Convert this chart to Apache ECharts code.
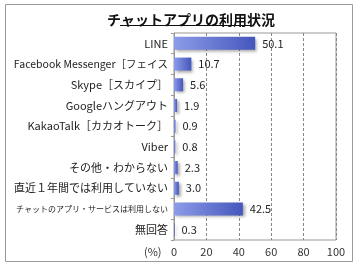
<!DOCTYPE html>
<html>
<head>
<meta charset="utf-8">
<script src="https://cdn.jsdelivr.net/npm/echarts@6/dist/echarts.min.js"></script>
<style>
  html, body { margin: 0; padding: 0; background: #fff; }
  #chart { width: 360px; height: 270px; }
</style>
</head>
<body>
<div id="chart"></div>
<script>
// category labels, top to bottom as in the picture
const categories = [
  "LINE",
  "Facebook Messenger［フェイス",
  "Skype［スカイプ］",
  "Googleハングアウト",
  "KakaoTalk［カカオトーク］",
  "Viber",
  "その他・わからない",
  "直近１年間では利用していない",
  "チャットのアプリ・サービスは利用しない",
  "無回答"
];
const values = [50.1, 10.7, 5.6, 1.9, 0.9, 0.8, 2.3, 3.0, 42.5, 0.3];
const xTicks = [0, 20, 40, 60, 80, 100];

const font = '"Noto Sans CJK JP", "Noto Sans", sans-serif';

// shrink long labels so they fit between the frame and the axis
const ctx = document.createElement("canvas").getContext("2d");
const fitSize = (text, maxW) => {
  let size = 11;
  while (size > 7) {
    ctx.font = size + "px " + font;
    if (ctx.measureText(text).width <= maxW) break;
    size -= 0.5;
  }
  return size;
};
const yData = categories.map(c => ({ value: c, textStyle: { fontSize: fitSize(c, 158) } }));

const chart = echarts.init(document.getElementById("chart"));

const option = {
  animation: false,
  textStyle: { fontFamily: font },
  title: {
    text: "チャットアプリの利用状況",
    left: 186,
    textAlign: "center",
    top: 8,
    textStyle: { fontSize: 14, fontWeight: "bold", color: "#111", fontFamily: font }
  },
  graphic: [
    // outer frame
    { type: "rect", shape: { x: 5.5, y: 4.5, width: 347, height: 257 },
      style: { fill: "none", stroke: "#9a9a9a", lineWidth: 1 }, silent: true },
    // title underline
    { type: "line", shape: { x1: 120, y1: 25.5, x2: 252, y2: 25.5 },
      style: { stroke: "#111", lineWidth: 1 }, silent: true },
    // unit label
    { type: "text", x: 144, y: 246,
      style: { text: "(%)", fontSize: 11, fill: "#333", fontFamily: font } }
  ],
  grid: {
    left: 174, right: 24, top: 33, bottom: 30,
    outerBoundsMode: "none",
    containLabel: false,
    show: true, borderColor: "#999", borderWidth: 1
  },
  xAxis: {
    type: "value",
    min: 0,
    max: 100,
    interval: 20,
    axisLine: { show: false },
    axisTick: { show: false },
    splitLine: { show: true, lineStyle: { color: "#888", type: [3, 2], width: 1 } },
    axisLabel: {
      color: "#333", fontSize: 11, margin: 6,
      formatter: v => xTicks.includes(v) ? String(v) : ""
    }
  },
  yAxis: {
    type: "category",
    data: yData,
    inverse: true,
    axisLine: { show: true, lineStyle: { color: "#999" } },
    axisTick: { show: true, length: 3, lineStyle: { color: "#999" } },
    axisLabel: { color: "#222", fontSize: 11, margin: 6 }
  },
  series: [{
    type: "bar",
    data: values,
    barWidth: 13,
    itemStyle: {
      color: new echarts.graphic.LinearGradient(0, 0, 1, 0, [
        { offset: 0, color: "#8c9ce8" },
        { offset: 1, color: "#4556bd" }
      ]),
      shadowColor: "rgba(0,0,0,0.35)",
      shadowBlur: 3,
      shadowOffsetX: 2,
      shadowOffsetY: 2
    },
    label: {
      show: true,
      position: "right",
      distance: 7,
      color: "#222",
      fontSize: 11,
      formatter: p => p.value.toFixed(1)
    }
  }]
};

chart.setOption(option);
</script>
</body>
</html>
